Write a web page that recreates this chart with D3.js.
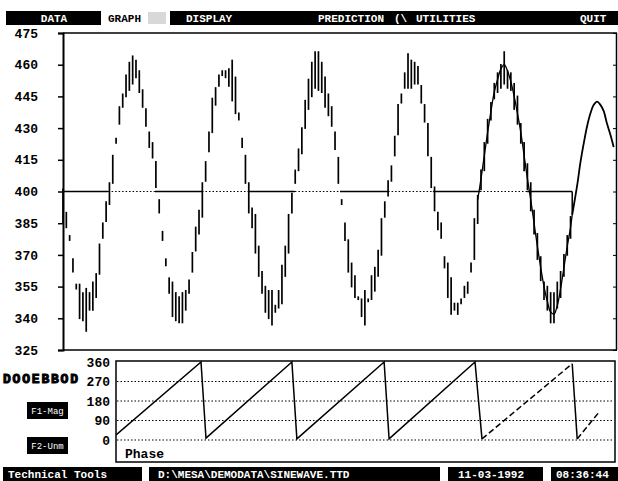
<!DOCTYPE html>
<html><head><meta charset="utf-8">
<script src="https://cdn.jsdelivr.net/npm/d3@7"></script>
<style>body{margin:0;background:#fff;}svg{display:block;}</style>
</head><body><svg id="c" width="618" height="481"></svg>
<script>
// ---------- data ----------
const yTicks = [325,340,355,370,385,400,415,430,445,460,475];
const phaseTicks = [0,90,180,270,360];
const barHigh = [401,390,379,368,356,356,352,354,352,357,
361,375,385,395,404,417,425,440,446,455,
461,464,462,457,448,439,428,423,414,396,
381,368,359,357,352,350,352,353,358,371,
383,391,404,414,428,444,449,455,457,457,
458,462,454,437,425,417,404,392,389,374,
362,355,353,353,346,353,365,374,389,399,
410,420,430,443,453,461,466,466,461,454,
446,440,428,416,396,385,377,366,360,350,
349,353,349,360,364,372,387,395,405,412,
426,441,446,456,465,462,461,459,450,441,
432,416,402,390,385,369,366,359,347,347,
349,355,357,366,387,398,410,423,434,442,
451,456,460,466,457,456,451,445,432,423,
413,404,391,380,369,357,355,352,352,357,
362,370,379,388];
const barLow = [385,383,377,362,354,340,339,334,344,344,
350,361,378,386,394,404,423,432,440,445,
448,451,454,447,440,431,421,416,402,390,
377,365,352,341,339,338,338,344,352,362,
372,380,388,405,419,428,441,450,455,454,
450,443,437,434,421,404,390,383,371,360,
352,343,340,337,343,345,347,360,371,390,
404,410,418,430,439,445,449,448,447,440,
436,431,420,404,394,377,362,355,350,349,
341,337,348,349,353,360,370,388,398,405,
417,427,442,449,449,449,451,451,442,433,
417,402,391,382,378,364,350,342,344,342,
347,350,352,362,368,385,401,410,423,434,
444,447,449,451,449,448,439,432,423,410,
401,391,380,368,358,349,344,338,338,345,
350,360,370,378];
const fitIdx = [125,126,127,128,129,130,131,132,133,134,135,136,137,138,139,140,141,142,143,144,145,146,147,148,149,150,151,152,153,153.5];
const fitVal = [396,406,417,428,438,447,453,458,460,457,452,445,437,428,417,406,396,385,374,364,355,348,343,342,346,354,364,374,383,389];
const forecastIdx = [153.5,155,156,157,158,159,160,161,162,163,164,165,166];
const forecastVal = [389,403,414,423,431,437,441,442.5,441,438,432,427,421];
const upCross = [13.6,41.9,69.9,98,125.7,153.5];
const downCross = [0,27.7,55.8,83.5,111.5,139.9];
const phaseIdx = [16,41.6,43.1,69.0,70.5,96.8,98.3,124.2,126.3,153.5,155.0,161.4];
const phaseVal = [23,360,9,360,5,360,5,360,5,352,5,125];
const menuLeft = ["DATA"];
const menuRight = ["DISPLAY","PREDICTION","(\\","UTILITIES","QUIT"];
const statusItems = ["Technical Tools","D:\\MESA\\DEMODATA\\SINEWAVE.TTD","11-03-1992","08:36:44"];

// ---------- drawing ----------
const svg = d3.select("#c");
const FONT = "'Liberation Mono','DejaVu Sans Mono',monospace";
const x = d3.scaleLinear().domain([0,167]).range([63,617]);
const y = d3.scaleLinear().domain([325,475]).range([350,33]);
const yp = d3.scaleLinear().domain([0,360]).range([440,362]);

// menu bar
svg.append("rect").attr("x",6).attr("y",11).attr("width",95).attr("height",14).attr("fill","#000");
svg.append("text").attr("x",54).attr("y",22).attr("text-anchor","middle").attr("fill","#fff")
  .attr("font-family",FONT).attr("font-weight","bold").attr("font-size",11).text(menuLeft[0]);
svg.append("text").attr("x",108).attr("y",22).attr("fill","#000")
  .attr("font-family",FONT).attr("font-weight","bold").attr("font-size",11).text("GRAPH");
svg.append("rect").attr("x",148).attr("y",12).attr("width",18).attr("height",12).attr("fill","#d8d8d8");
svg.append("rect").attr("x",170).attr("y",11).attr("width",448).attr("height",14).attr("fill","#000");
const menuX = [186,318,394,416,580];
menuRight.forEach((t,i)=>{
  svg.append("text").attr("x",menuX[i]).attr("y",22).attr("fill","#fff")
    .attr("font-family",FONT).attr("font-weight","bold").attr("font-size",11).text(t);
});

// main frame
const gMain = svg.append("g");
gMain.append("line").attr("x1",63).attr("x2",617).attr("y1",33).attr("y2",33).attr("stroke","#000").attr("stroke-width",1.5);
gMain.append("line").attr("x1",63).attr("x2",617).attr("y1",350).attr("y2",350).attr("stroke","#000").attr("stroke-width",1.5);
gMain.append("line").attr("x1",616.5).attr("x2",616.5).attr("y1",33).attr("y2",350).attr("stroke","#000").attr("stroke-width",1.5);

const axL = gMain.append("g").attr("transform","translate(63,0)")
  .call(d3.axisLeft(y).tickValues(yTicks).tickSize(5).tickPadding(20).tickFormat(d3.format("d")));
axL.select(".domain").attr("stroke-width",2);
axL.selectAll("text").attr("font-family",FONT).attr("font-weight","bold").attr("font-size",13).attr("fill","#000");
axL.selectAll("line").attr("stroke-width",1.5);
const axR = gMain.append("g").attr("transform","translate(617,0)")
  .call(d3.axisLeft(y).tickValues(yTicks).tickSize(4).tickFormat(""));
axR.select(".domain").remove();

// 400 reference line: solid below-phase segments, dotted above-phase segments
downCross.forEach((d,i)=>{
  gMain.append("line").attr("x1",x(d)).attr("x2",x(upCross[i])).attr("y1",y(400)).attr("y2",y(400))
    .attr("stroke","#000").attr("stroke-width",1.3);
  if(i<upCross.length-1){
    gMain.append("line").attr("x1",x(upCross[i])).attr("x2",x(downCross[i+1])).attr("y1",y(400)).attr("y2",y(400))
      .attr("stroke","#000").attr("stroke-width",1.2).attr("stroke-dasharray","1.5,2");
  }
});
gMain.append("line").attr("x1",x(upCross[5])).attr("x2",x(upCross[5])).attr("y1",y(400)).attr("y2",y(forecastVal[0]))
  .attr("stroke","#000").attr("stroke-width",1.5);

// bars
gMain.append("g").selectAll("line").data(barHigh.map((h,i)=>({i,h,l:barLow[i]}))).join("line")
  .attr("x1",d=>x(d.i)).attr("x2",d=>x(d.i))
  .attr("y1",d=>y(d.h)-0.8).attr("y2",d=>y(d.l)+0.8)
  .attr("stroke","#000").attr("stroke-width",1.7);

// fitted line + forecast
const line = d3.line().x(d=>x(d[0])).y(d=>y(d[1])).curve(d3.curveCatmullRom);
gMain.append("path").datum(fitIdx.map((v,i)=>[v,fitVal[i]])).attr("d",line)
  .attr("fill","none").attr("stroke","#000").attr("stroke-width",1.3);
gMain.append("path").datum(forecastIdx.map((v,i)=>[v,forecastVal[i]])).attr("d",line)
  .attr("fill","none").attr("stroke","#000").attr("stroke-width",1.8);

// lower phase panel
const gP = svg.append("g");
gP.append("rect").attr("x",116).attr("y",361).attr("width",499).attr("height",101)
  .attr("fill","none").attr("stroke","#000").attr("stroke-width",1.5);
const axP = gP.append("g").attr("transform","translate(116,0)")
  .call(d3.axisLeft(yp).tickValues(phaseTicks).tickSize(0).tickPadding(6).tickFormat(d3.format("d")));
axP.select(".domain").remove();
axP.selectAll("text").attr("font-family",FONT).attr("font-weight","bold").attr("font-size",13).attr("fill","#000");
gP.selectAll(".grid").data(phaseTicks.slice(0,4)).join("line").attr("class","grid")
  .attr("x1",117).attr("x2",614).attr("y1",d=>yp(d)).attr("y2",d=>yp(d))
  .attr("stroke","#000").attr("stroke-width",1).attr("stroke-dasharray","1.5,2");
svg.append("clipPath").attr("id","pc").append("rect").attr("x",116).attr("y",355).attr("width",499).attr("height",107);
const pline = d3.line().x(d=>x(d[0])).y(d=>yp(d[1]));
const pts = phaseIdx.map((v,i)=>[v,phaseVal[i]]);
const segs = [[0,8,null],[8,9,"6,3"],[9,10,null],[10,11,"6,3"]];
segs.forEach(s=>{
  gP.append("path").datum(pts.slice(s[0],s[1]+1)).attr("d",pline).attr("clip-path","url(#pc)")
    .attr("fill","none").attr("stroke","#000").attr("stroke-width",1.5)
    .attr("stroke-dasharray",s[2]);
});
gP.append("text").attr("x",125).attr("y",458).attr("font-family",FONT).attr("font-weight","bold")
  .attr("font-size",13).text("Phase");

// left side controls
svg.append("text").attr("x",3).attr("y",383).attr("font-family",FONT).attr("font-weight","bold")
  .attr("font-size",13).attr("textLength",75).attr("stroke","#000").attr("stroke-width",1).text("DOOEBBOD");
[["F1-Mag",402],["F2-Unm",437]].forEach(b=>{
  svg.append("rect").attr("x",27).attr("y",b[1]).attr("width",41).attr("height",17).attr("fill","#000");
  svg.append("text").attr("x",47.5).attr("y",b[1]+12).attr("text-anchor","middle").attr("fill","#fff")
    .attr("font-family",FONT).attr("font-size",9).text(b[0]);
});

// status bar
const sb = [[3,139,8],[149,291,158],[448,95,458],[551,67,556]];
statusItems.forEach((t,i)=>{
  svg.append("rect").attr("x",sb[i][0]).attr("y",467).attr("width",sb[i][1]).attr("height",14).attr("fill","#000");
  svg.append("text").attr("x",sb[i][2]).attr("y",478).attr("fill","#fff")
    .attr("font-family",FONT).attr("font-weight","bold").attr("font-size",11).text(t);
});
</script></body></html>
